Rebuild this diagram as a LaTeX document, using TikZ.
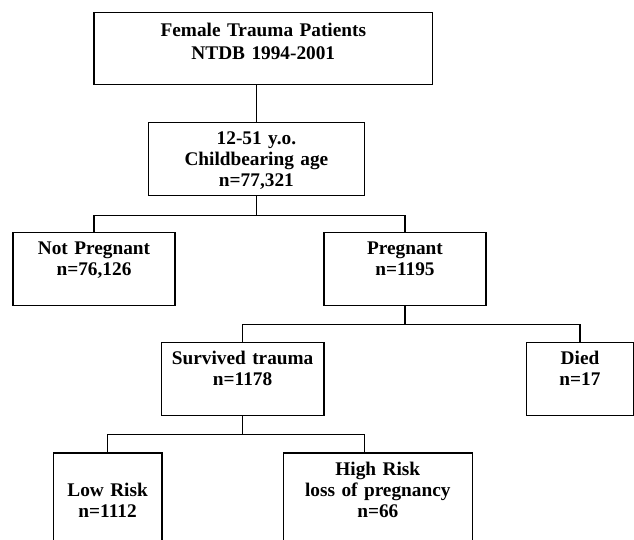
\documentclass[tikz,border=0pt]{standalone}
\usepackage{fontspec}
\setmainfont{Liberation Serif}
\usepackage{tikz}

\begin{document}
\begin{tikzpicture}[x=1bp, y=-1bp,
  cbox/.style={draw, line width=1.2bp, align=center, inner sep=0pt, anchor=north,
    text height=22.5bp, text depth=50.5bp,
    font=\bfseries\fontsize{19.3bp}{20.8bp}\selectfont},
  link/.style={line width=1.2bp}]
%\draw[help lines] (0, 0) grid (634, 540);
\useasboundingbox (0, 0) rectangle (634, 540);
\clip (0, 0) rectangle (634, 540);
\node[cbox, text width=338.7bp, text height=24bp, text depth=48.6bp] (ntdb) at (263.3, 11.7) {Female Trauma Patients\\[2.2bp]NTDB 1994-2001};
\node[cbox, text width=216.2bp] (age) at (256.4, 121.7) {12-51 y.o.\\Childbearing age\\n=77,321};
\node[cbox, text width=162bp] (notpreg) at (94, 231.7) {Not Pregnant\\n=76,126};
\node[cbox, text width=162bp] (preg) at (405, 231.7) {Pregnant\\n=1195};
\node[cbox, text width=162.7bp] (surv) at (242.6, 341.7) {Survived trauma\\n=1178};
\node[cbox, text width=106.6bp] (died) at (580, 341.7) {Died\\n=17};
\node[cbox, text width=108.7bp, text height=43.4bp, text depth=60bp] (lowrisk) at (107.6, 452.3) {Low Risk\\n=1112};
\node[cbox, text width=189bp, text depth=80bp] (highrisk) at (377.8, 452.3) {High Risk\\loss of pregnancy\\n=66};
% tree lines
\draw[link] (ntdb.south -| age.north) -- (age.north);
\coordinate (split1) at ([yshift=-19.3bp]age.south);
\draw[link] (age.south) -- (split1);
\draw[link] (notpreg.north) |- (split1) -| (preg.north);
\coordinate (split2) at ([yshift=-18.3bp]preg.south);
\draw[link] (preg.south) -- (split2);
\draw[link] (surv.north) |- (split2) -| (died.north);
\coordinate (split3) at ([yshift=-18.3bp]surv.south);
\draw[link] (surv.south) -- (split3);
\draw[link] (lowrisk.north) |- (split3) -| ([xshift=-13.5bp]highrisk.north);
\end{tikzpicture}
\end{document}
